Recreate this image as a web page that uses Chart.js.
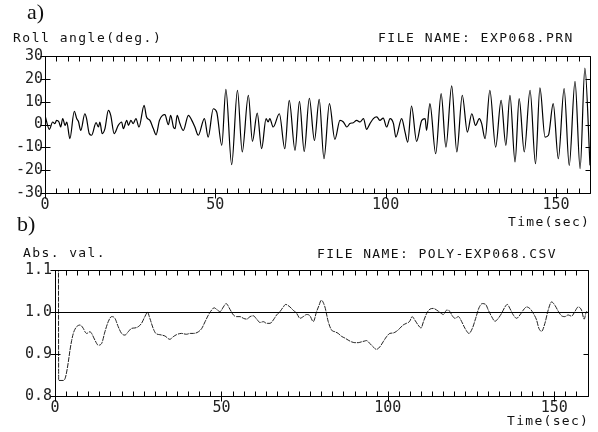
<!DOCTYPE html>
<html><head><meta charset="utf-8">
<script src="https://cdn.jsdelivr.net/npm/chart.js@4/dist/chart.umd.min.js"></script>
<style>
html,body{margin:0;padding:0;background:#fff;}
#wrap{position:relative;width:598px;height:432px;background:#fff;}
canvas{position:absolute;left:0;top:0;}
</style></head><body>
<div id="wrap"><canvas id="ca" width="598" height="432"></canvas><canvas id="cb" width="598" height="432"></canvas></div>
<script>
// ---- data: panel a) roll angle ----
const rollTime = [0.0,1.3,2.25,2.9,3.4,4.1,4.6,5.2,5.9,6.4,7.3,8.6,9.3,9.8,10.5,11.7,12.2,13.0,13.7,15.0,15.7,16.1,16.8,17.6,18.6,19.3,20.3,21.5,22.5,23.0,24.0,24.5,25.2,25.9,26.7,27.6,29.1,29.8,30.8,31.8,32.6,33.6,34.5,35.2,36.2,36.9,37.7,38.2,38.8,39.6,40.6,42.1,43.1,44.0,45.0,46.8,47.9,49.4,50.4,51.9,53.1,54.8,56.5,57.9,59.7,60.9,62.3,63.6,64.9,65.5,66.0,67.0,68.8,70.4,71.7,73.4,74.7,76.1,77.6,79.1,80.5,81.9,83.5,85.1,86.6,87.6,88.6,89.5,90.5,91.5,92.5,93.5,94.4,95.4,96.4,97.4,98.3,99.3,100.3,101.3,102.3,103.0,104.7,105.7,106.5,107.6,109.1,110.6,111.6,112.0,113.0,114.7,116.3,117.7,119.4,120.9,122.5,124.0,125.3,126.4,127.5,128.2,129.2,130.6,132.3,133.9,135.3,136.5,138.0,139.2,140.7,142.4,144.0,145.3,146.8,147.8,149.2,150.7,152.4,153.9,155.6,157.1,158.5,160.0];
const rollDeg = [4.0,-2.1,1.1,0.4,1.8,1.1,-1.1,2.6,-0.4,1.1,-6.2,5.8,2.6,1.4,-2.6,4.7,2.6,-4.0,-4.7,0.8,-1.1,1.1,-4.0,-1.8,6.2,4.0,-4.0,-0.4,1.1,-1.8,1.8,-0.4,1.8,0.4,2.6,-1.1,8.4,3.3,1.8,-1.8,-4.5,1.8,4.0,4.3,-0.1,4.0,-1.1,-1.8,4.0,0.4,-2.6,4.0,1.8,-1.1,-4.7,2.6,-5.5,6.9,5.5,-9.1,15.4,-17.6,15.0,-12.0,12.8,-7.4,5.0,-10.6,2.6,1.1,2.6,-1.1,4.7,-10.6,10.6,-11.3,10.1,-11.8,11.5,-7.0,11.0,-15.0,9.1,-6.5,1.8,1.1,-1.1,0.4,0.8,1.8,1.1,2.6,-2.1,0.4,2.6,3.3,1.8,2.8,-1.1,2.6,0.4,-5.5,2.6,-3.3,-7.7,8.1,-7.4,1.8,2.6,-2.6,9.1,-12.8,13.5,-9.9,16.9,-12.0,12.8,-3.3,4.7,-0.4,2.6,0.4,-6.2,15.0,-9.9,10.6,-9.1,12.8,-16.4,11.3,-12.0,15.0,-17.2,16.0,-5.5,-4.7,9.1,-15.0,15.7,-17.9,18.9,-19.3,24.7,-17.9];
const rollTicksY = [-30,-20,-10,0,10,20,30];

// ---- data: panel b) absolute value ----
const absTime = [0.0,1.0,1.1,2.5,3.0,3.5,4.0,4.5,5.0,5.5,6.0,6.5,7.5,8.5,9.0,9.5,10.5,11.0,12.0,13.0,14.0,15.0,16.0,17.0,18.0,19.0,20.0,21.0,22.0,23.0,24.0,25.0,26.0,27.0,27.8,28.5,29.5,30.3,31.5,33.0,34.5,35.5,36.5,38.0,39.5,40.6,41.6,43.1,44.1,45.1,46.1,47.1,47.8,48.6,49.6,50.6,51.4,52.6,53.6,54.6,55.6,56.6,57.6,58.6,59.6,60.6,61.6,62.6,63.6,64.6,65.6,66.6,67.6,68.6,69.3,70.6,71.6,72.6,73.6,74.6,75.6,76.6,77.6,78.6,79.3,80.0,81.1,82.1,83.1,84.1,85.1,86.1,87.1,88.1,89.1,90.1,91.1,92.1,93.1,93.6,94.6,95.6,96.6,97.6,98.6,99.6,100.6,101.6,102.6,103.6,104.6,105.6,106.6,107.3,108.1,109.1,110.0,110.7,111.7,112.7,113.7,114.7,115.7,116.7,117.7,118.7,119.2,120.2,121.2,122.2,123.2,124.4,125.4,126.4,127.4,128.4,129.4,130.2,131.2,132.2,133.2,134.2,135.2,135.9,136.7,137.7,138.7,139.7,140.7,141.7,142.7,143.7,144.7,145.4,146.2,147.2,148.2,149.2,150.2,151.2,152.2,153.2,154.2,155.2,156.2,157.2,158.2,159.0,159.7,160.0];
const absVal = [1.30,1.30,0.837,0.837,0.841,0.857,0.881,0.909,0.932,0.949,0.959,0.965,0.969,0.961,0.953,0.949,0.953,0.949,0.933,0.921,0.925,0.953,0.977,0.989,0.985,0.965,0.949,0.945,0.953,0.961,0.962,0.965,0.973,0.989,0.999,0.985,0.961,0.949,0.946,0.943,0.935,0.941,0.946,0.949,0.947,0.949,0.949,0.953,0.961,0.977,0.993,1.005,1.010,1.006,1.001,1.012,1.020,1.006,0.993,0.989,0.989,0.985,0.983,0.989,0.991,0.983,0.975,0.977,0.973,0.973,0.981,0.993,1.001,1.012,1.018,1.012,1.004,0.997,0.985,0.989,0.994,0.991,0.977,1.001,1.015,1.028,1.012,0.977,0.957,0.953,0.949,0.942,0.938,0.933,0.929,0.927,0.927,0.929,0.931,0.932,0.925,0.917,0.911,0.917,0.929,0.941,0.949,0.950,0.954,0.961,0.969,0.973,0.978,0.989,0.981,0.969,0.962,0.977,0.997,1.007,1.0085,1.0045,0.999,0.994,1.0045,1.001,0.993,0.985,0.989,0.977,0.961,0.949,0.961,0.985,1.010,1.020,1.018,1.0045,0.989,0.978,0.985,0.997,1.012,1.018,1.008,0.993,0.985,0.993,1.0045,1.012,1.008,0.997,0.981,0.961,0.954,0.973,1.005,1.024,1.016,1.002,0.991,0.989,0.993,0.990,1.001,1.012,1.0045,0.983,1.001,1.000];
const absTicksY = [0.8,0.9,1.0,1.1];
const absRefLine = 1.0;

// ---- shared ----
const timeMax = 160;
const timeMinorStep = 10/3;
const timeLabels = [0,50,100,150];

const MONO = "'DejaVu Sans Mono', monospace";
const SERIF = "'Liberation Serif', 'Times New Roman', serif";

function isLabelTime(v){ return timeLabels.some(l => Math.abs(l - v) < 1e-6); }
function crisp(v){ return Math.round(v) + 0.5; }

function timeTicks(scale){
  const t = [];
  for (let k = 0; k * timeMinorStep <= timeMax + 1e-6; k++) t.push({value: k * timeMinorStep});
  scale.ticks = t;
}

function framePlugin(id, opts){
  return {
    id,
    afterDatasetsDraw(chart){
      const {ctx, chartArea:a, scales:{x, y}} = chart;
      ctx.save();
      ctx.strokeStyle = '#000';
      ctx.lineWidth = 1;
      const L = crisp(a.left), R = crisp(a.right), T = crisp(a.top), B = crisp(a.bottom);
      ctx.beginPath();
      ctx.moveTo(L, T); ctx.lineTo(R, T); ctx.lineTo(R, B); ctx.lineTo(L, B); ctx.closePath();
      x.ticks.forEach(t => {
        const px = crisp(x.getPixelForValue(t.value));
        ctx.moveTo(px, B); ctx.lineTo(px, B - 5);
        if (isLabelTime(t.value)) { ctx.moveTo(px, B); ctx.lineTo(px, B + 5); }
        ctx.moveTo(px, T); ctx.lineTo(px, T + 5);
      });
      y.ticks.forEach(t => {
        const py = crisp(y.getPixelForValue(t.value));
        ctx.moveTo(L - 5, py); ctx.lineTo(L + 5, py);
        ctx.moveTo(R, py); ctx.lineTo(R - 5, py);
      });
      if (opts.ref !== undefined) {
        const py = crisp(y.getPixelForValue(opts.ref));
        ctx.moveTo(L, py); ctx.lineTo(R, py);
      }
      ctx.stroke();
      // texts
      ctx.fillStyle = '#111';
      opts.texts.forEach(tx => {
        ctx.font = tx.font;
        ctx.letterSpacing = tx.ls || '0px';
        ctx.textAlign = 'left';
        ctx.textBaseline = 'alphabetic';
        ctx.fillText(tx.s, tx.x, tx.y);
      });
      ctx.letterSpacing = '0px';
      ctx.restore();
    }
  };
}

function makeChart(canvasId, cfg){
  return new Chart(document.getElementById(canvasId), {
    type: 'line',
    data: { datasets: [{
      data: cfg.xs.map((t, i) => ({x: t, y: cfg.ys[i]})),
      borderColor: cfg.color, borderWidth: cfg.width, borderDash: cfg.dash || [],
      pointRadius: 0, fill: false, cubicInterpolationMode: 'monotone'
    }]},
    options: {
      responsive: false, animation: false, devicePixelRatio: 1,
      layout: { padding: cfg.padding },
      plugins: { legend: {display:false}, tooltip: {enabled:false}, title: {display:false} },
      scales: {
        x: {
          type: 'linear', min: 0, max: timeMax,
          afterBuildTicks: timeTicks,
          afterFit: s => { s.height = cfg.xh; },
          grid: {display:false, drawTicks:false}, border: {display:false},
          ticks: {
            autoSkip: false, maxRotation: 0, minRotation: 0, padding: cfg.xpad,
            color: '#222', font: {family: MONO, size: 15},
            callback: v => isLabelTime(v) ? String(Math.round(v)) : ''
          }
        },
        y: {
          type: 'linear', min: cfg.ymin, max: cfg.ymax,
          afterBuildTicks: s => { s.ticks = cfg.yticks.map(v => ({value: v})); },
          afterFit: s => { s.width = cfg.yw; },
          grid: {display:false, drawTicks:false}, border: {display:false},
          ticks: {
            padding: cfg.ypad, color: '#222', font: {family: MONO, size: 15},
            callback: v => cfg.fmt(v)
          }
        }
      }
    },
    plugins: [framePlugin(canvasId + 'frame', {ref: cfg.ref, texts: cfg.texts})]
  });
}

const hdr = '13px ' + MONO;
makeChart('ca', {
  xs: rollTime, ys: rollDeg, color: '#000', width: 1.2,
  padding: {top: 56, right: 8, left: 0, bottom: 202},
  xh: 37, yw: 45, xpad: 3, ypad: 2,
  ymin: -30, ymax: 30, yticks: rollTicksY, fmt: v => String(Math.round(v)),
  texts: [
    {s: 'a)', x: 27, y: 19, font: '22px ' + SERIF},
    {s: 'Roll angle(deg.)', x: 13, y: 42, font: hdr, ls: '1.5px'},
    {s: 'FILE NAME: EXP068.PRN', x: 378, y: 42, font: hdr, ls: '1.5px'},
    {s: 'Time(sec)', x: 508, y: 226, font: hdr, ls: '1.3px'}
  ]
});
makeChart('cb', {
  xs: absTime, ys: absVal, color: '#222', width: 1, dash: [5, 1],
  padding: {top: 270, right: 10.5, left: 0, bottom: 0},
  xh: 36, yw: 55, xpad: 3, ypad: 3,
  ymin: 0.8, ymax: 1.1, yticks: absTicksY, fmt: v => v.toFixed(1), ref: absRefLine,
  texts: [
    {s: 'b)', x: 17, y: 231, font: '22px ' + SERIF},
    {s: 'Abs. val.', x: 23, y: 257, font: hdr, ls: '1.4px'},
    {s: 'FILE NAME: POLY-EXP068.CSV', x: 317, y: 258, font: hdr, ls: '1.4px'},
    {s: 'Time(sec)', x: 507, y: 425, font: hdr, ls: '1.3px'}
  ]
});
</script>
</body></html>
